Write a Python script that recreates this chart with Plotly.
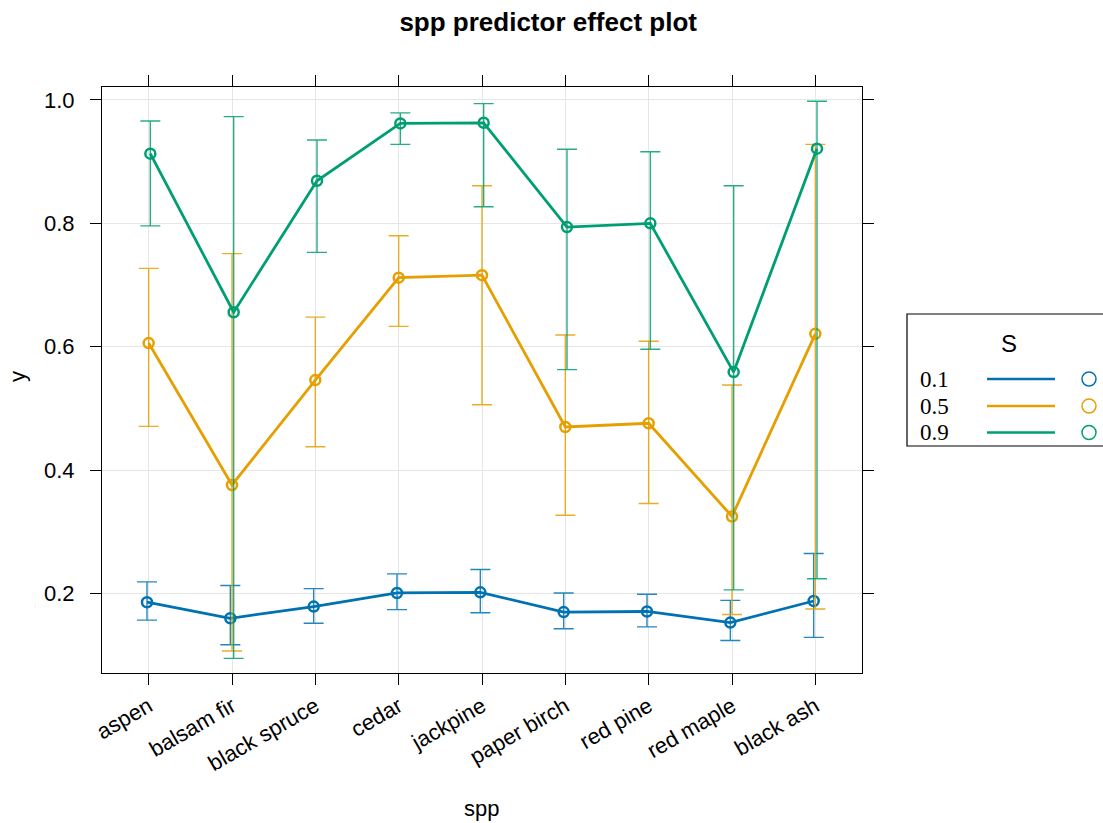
import plotly.graph_objects as go

# ---------------- data ----------------
species = ["aspen", "balsam fir", "black spruce", "cedar", "jackpine",
           "paper birch", "red pine", "red maple", "black ash"]
s_levels = ["0.1", "0.5", "0.9"]

fit_s01 = [0.186, 0.160, 0.179, 0.201, 0.202, 0.170, 0.171, 0.153, 0.188]
lower_s01 = [0.157, 0.117, 0.152, 0.174, 0.169, 0.143, 0.146, 0.124, 0.129]
upper_s01 = [0.219, 0.213, 0.208, 0.232, 0.239, 0.201, 0.199, 0.189, 0.265]

fit_s05 = [0.606, 0.376, 0.546, 0.712, 0.716, 0.470, 0.476, 0.325, 0.621]
lower_s05 = [0.471, 0.107, 0.438, 0.633, 0.506, 0.327, 0.346, 0.166, 0.175]
upper_s05 = [0.727, 0.751, 0.648, 0.780, 0.861, 0.619, 0.609, 0.538, 0.928]

fit_s09 = [0.913, 0.656, 0.869, 0.962, 0.963, 0.794, 0.800, 0.559, 0.921]
lower_s09 = [0.796, 0.095, 0.753, 0.928, 0.827, 0.563, 0.596, 0.206, 0.224]
upper_s09 = [0.966, 0.973, 0.935, 0.979, 0.994, 0.920, 0.916, 0.861, 0.998]

y_ticks = [0.2, 0.4, 0.6, 0.8, 1.0]
y_tick_labels = ["0.2", "0.4", "0.6", "0.8", "1.0"]

fits = [fit_s01, fit_s05, fit_s09]
lowers = [lower_s01, lower_s05, lower_s09]
uppers = [upper_s01, upper_s05, upper_s09]

# ---------------- style ----------------
colors = ["#0072B2", "#E69F00", "#009E73"]
bar_colors = ["rgba(0,114,178,0.85)", "rgba(230,159,0,0.85)", "rgba(0,158,115,0.85)"]
dodge = [-0.02, 0.0, 0.02]
SANS = "Liberation Sans, Arial, Helvetica"
SERIF = "Liberation Serif, Times New Roman, serif"

W, H = 1103, 823
ML, MR, MT, MB = 102, 241, 87, 150
PW, PH = W - ML - MR, H - MT - MB


def px_x(x):
    return (x - ML) / PW


def px_y(y):
    return (H - MB - y) / PH


fig = go.Figure()
for k, lev in enumerate(s_levels):
    xs = [i + dodge[k] for i in range(len(species))]
    fig.add_trace(go.Scatter(
        x=xs, y=fits[k], mode="lines+markers", name=lev,
        line=dict(color=colors[k], width=2.8),
        marker=dict(symbol="circle-open", size=10, color=colors[k],
                    line=dict(width=2.5, color=colors[k])),
        error_y=dict(type="data", symmetric=False,
                     array=[u - f for u, f in zip(uppers[k], fits[k])],
                     arrayminus=[f - l for f, l in zip(fits[k], lowers[k])],
                     color=bar_colors[k], thickness=1.4, width=10),
        showlegend=False,
    ))

# ---------------- custom legend ----------------
shapes = [dict(type="rect", xref="paper", yref="paper",
               x0=px_x(907), x1=px_x(1130), y0=px_y(446), y1=px_y(314),
               line=dict(color="black", width=1.2), fillcolor="rgba(0,0,0,0)")]
annotations = [dict(text="S", xref="paper", yref="paper", x=px_x(1009), y=px_y(343),
                    showarrow=False, font=dict(family=SANS, size=24, color="black"),
                    xanchor="center", yanchor="middle")]
item_y = [379, 406, 432.5]
for k, lev in enumerate(s_levels):
    yy = px_y(item_y[k])
    annotations.append(dict(text=lev, xref="paper", yref="paper", x=px_x(919), y=yy,
                            showarrow=False, xanchor="left", yanchor="middle", borderpad=0,
                            font=dict(family=SERIF, size=23, color="black")))
    shapes.append(dict(type="line", xref="paper", yref="paper",
                       x0=px_x(987), x1=px_x(1055), y0=yy, y1=yy,
                       line=dict(color=colors[k], width=2.5)))
    shapes.append(dict(type="circle", xref="paper", yref="paper",
                       xsizemode="pixel", ysizemode="pixel",
                       xanchor=px_x(1089), yanchor=yy,
                       x0=-7, x1=7, y0=-7, y1=7,
                       line=dict(color=colors[k], width=1.5)))

# axis titles
annotations.append(dict(text="spp", xref="paper", yref="paper", x=px_x(481), y=px_y(808),
                        showarrow=False, xanchor="center", yanchor="middle",
                        font=dict(family=SANS, size=22, color="black")))
annotations.append(dict(text="y", xref="paper", yref="paper", x=px_x(17), y=px_y(377),
                        showarrow=False, xanchor="center", yanchor="middle", textangle=-90,
                        font=dict(family=SANS, size=22, color="black")))

axis_common = dict(showline=True, linecolor="black", linewidth=1, mirror="ticks",
                   ticks="outside", ticklen=11, tickcolor="black", tickwidth=1,
                   showgrid=True, gridcolor="#e6e6e6", gridwidth=1, zeroline=False,
                   tickfont=dict(family=SANS, size=22, color="black"))

fig.update_layout(
    width=W, height=H,
    margin=dict(l=ML, r=MR, t=MT, b=MB),
    paper_bgcolor="white", plot_bgcolor="white",
    title=dict(text="<b>spp predictor effect plot</b>", x=0.497, xref="container",
               y=1 - 22 / H, yref="container", xanchor="center", yanchor="middle",
               font=dict(family=SANS, size=26, color="black")),
    xaxis=dict(range=[-0.56, 8.56], tickmode="array",
               tickvals=list(range(len(species))), ticktext=species, tickangle=-30,
               **axis_common),
    yaxis=dict(range=[0.0713, 1.021], tickmode="array",
               tickvals=y_ticks, ticktext=y_tick_labels, ticklabelstandoff=11,
               **axis_common),
    shapes=shapes, annotations=annotations,
)

fig.write_html("out.html", config={"displayModeBar": False},
               post_script="document.body.style.margin='0';")
